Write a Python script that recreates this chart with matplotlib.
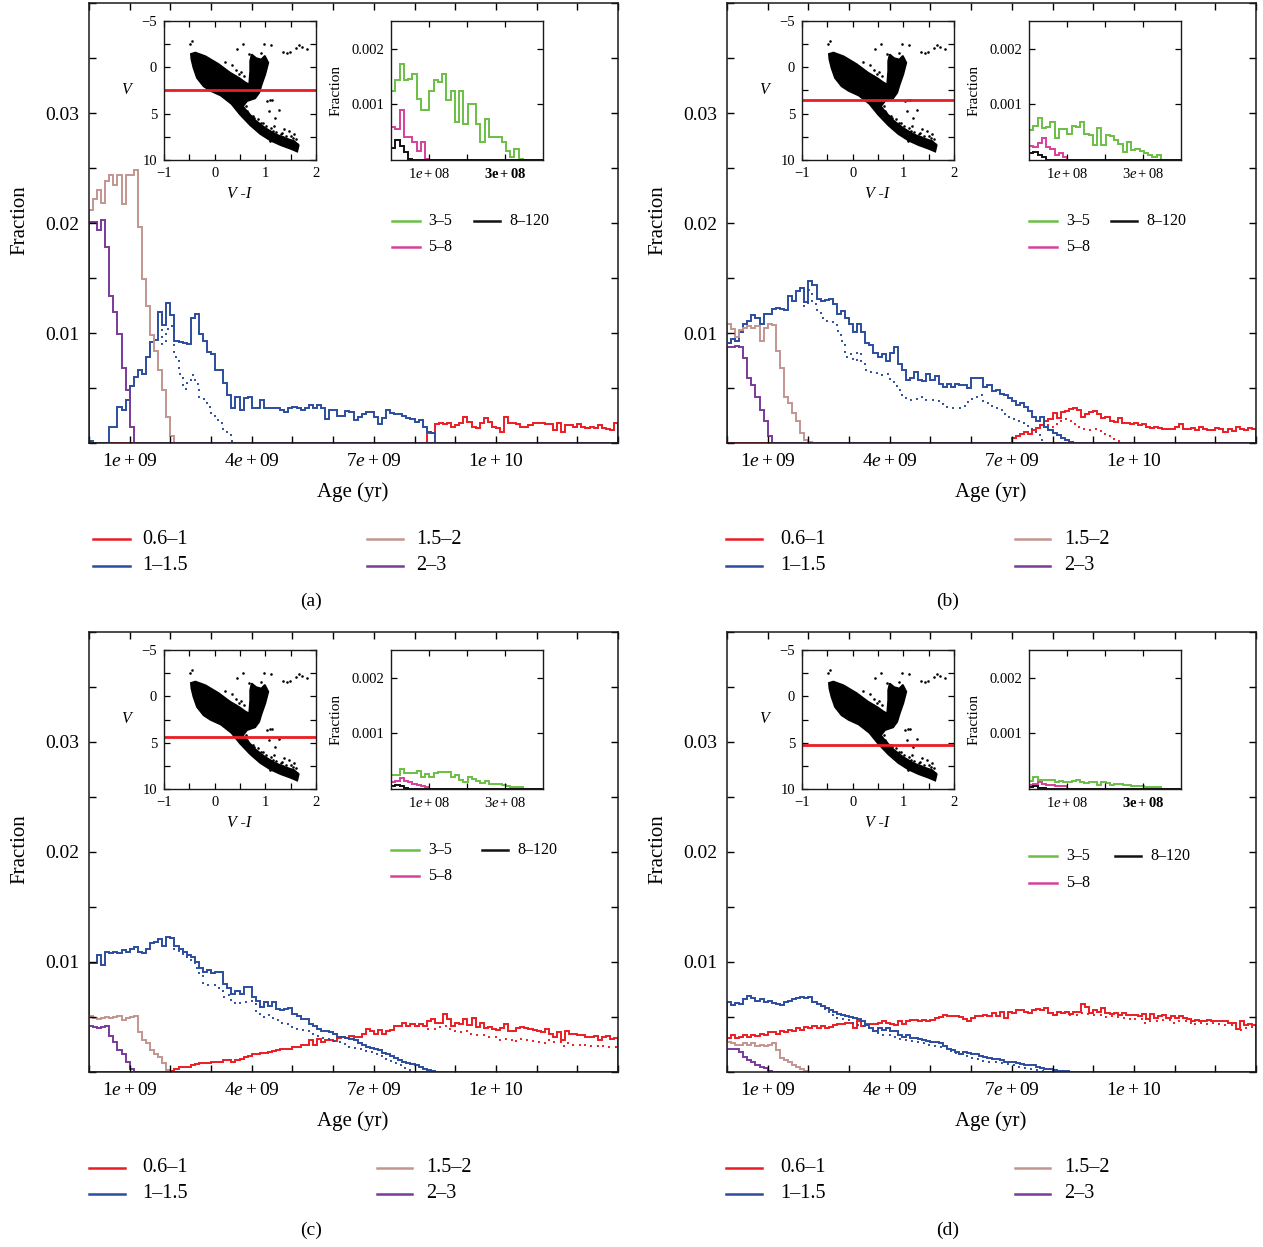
import numpy as np
import matplotlib
matplotlib.use('Agg')
import matplotlib.pyplot as plt
from matplotlib.lines import Line2D
from matplotlib.ticker import MultipleLocator, FixedLocator

plt.rcParams['font.family'] = ['Liberation Serif', 'DejaVu Serif']
plt.rcParams['mathtext.fontset'] = 'custom'
plt.rcParams['mathtext.rm'] = 'Liberation Serif'
plt.rcParams['mathtext.it'] = 'Liberation Serif:italic'
plt.rcParams['mathtext.bf'] = 'Liberation Serif:bold'

# ---------------- data (fractions in units of 1e-3) ----------------
AGE_BIN = 1e8          # 0.1 Gyr bins, main panels
N_AGE = 130
YOUNG_BIN = 1.12e7     # inset bins
N_YOUNG = 36

# panel (a)
A_PURPLE = [20.1, 20.1, 19.4, 20.3, 17.8, 13.4, 11.9, 9.9, 6.8, 4.8, 1.5]
A_ROSY = [21.2, 22.2, 23.0, 21.8, 23.8, 24.4, 23.5, 24.4, 21.7, 24.4, 24.4, 24.8,
          19.6, 14.9, 12.5, 9.8, 8.4, 6.6, 4.8, 2.4, 0.6]
A_BLUE = [0.2, 0, 0, 0, 0, 1.5, 1.5, 3.3, 3.0, 3.9, 5.2, 6.0, 6.6, 6.3, 7.8, 9.2, 9.4,
          11.9, 10.7, 12.7, 11.6, 9.3, 9.2, 9.1, 9.0, 11.4, 11.7, 9.9, 9.3, 8.3, 8.1,
          6.6, 6.6, 5.5, 4.4, 3.2, 4.2, 3.0, 4.1, 4.2, 3.2, 3.2, 3.9, 3.2,
          3.2, 3.2, 3.2, 3.0, 2.8, 3.2, 3.3, 3.2, 3.0, 3.2, 3.5, 3.2, 3.5, 3.2, 2.2,
          3.0, 3.0, 2.5, 2.5, 2.9, 2.8, 2.1, 2.4, 2.6, 2.8, 2.8, 2.4, 1.7, 2.3, 3.0,
          2.7, 2.6, 2.6, 2.5, 2.3, 2.2, 1.9, 2.1, 1.5, 1.0, 0.9]
A_BLUE_DOT_START = 18
A_BLUE_DOT = [9.0, 10.4, 10.6, 7.8, 6.3, 4.9, 5.7, 6.2, 5.4, 4.0, 4.0, 3.3, 2.7, 2.1,
              1.8, 1.2, 0.7, 0.2]
A_RED_START = 83
A_RED = [0.9, 0.9, 1.7, 1.8, 1.7, 1.8, 1.5, 1.6, 1.8, 2.4, 1.9, 1.5, 1.4, 1.8, 2.3,
         1.9, 1.5, 1.4, 1.0, 2.4, 1.8, 1.8, 1.7, 1.5, 1.5, 1.6, 1.8, 1.8, 1.8, 1.7,
         1.7, 1.2, 1.8, 1.0, 1.6, 1.6, 1.5, 1.7, 1.5, 1.4, 1.5, 1.4, 1.6, 1.4, 1.3,
         1.2, 1.8]
A_GREEN = [1.25, 1.43, 1.73, 1.43, 1.46, 1.55, 1.10, 0.90, 0.90, 1.25, 1.43, 1.40,
           1.55, 1.08, 1.25, 0.68, 1.25, 0.65, 1.01, 1.01, 0.64, 0.32, 0.74, 0.41,
           0.41, 0.41, 0.32, 0.17, 0.05, 0.20, 0.02]
A_MAGENTA = [0.59, 0.56, 0.90, 0.42, 0.42, 0.32, 0.17, 0.32, 0.02]
A_BLACK = [0.22, 0.36, 0.26, 0.14, 0.02]

# panel (b)
B_PURPLE = [8.7, 8.7, 8.8, 8.7, 7.7, 5.9, 5.3, 4.2, 3.0, 2.0, 0.6]
B_ROSY = [10.8, 10.4, 9.6, 10.3, 10.5, 10.6, 10.5, 10.6, 9.3, 10.5, 10.8, 10.7, 8.4,
          6.8, 4.2, 3.6, 2.7, 2.0, 0.9, 0.3, 0.1]
B_BLUE = [9.1, 9.5, 9.3, 10.1, 10.8, 11.1, 11.6, 11.4, 10.8, 11.7, 11.7, 12.2, 12.3,
          12.2, 12.1, 13.4, 12.9, 13.8, 14.1, 12.8, 14.7, 14.4, 13.1, 12.9, 13.0,
          13.1, 12.6, 11.7, 12.0, 11.4, 10.8, 10.1, 10.8, 10.1, 9.1, 8.9, 8.2, 7.8,
          8.1, 7.5, 8.2, 8.7, 7.2, 6.6, 5.7, 5.9, 6.5, 5.7, 5.6, 6.3, 5.7, 6.1, 5.4,
          5.1, 5.4, 5.1, 5.4, 5.3, 5.3, 5.0, 5.9, 5.9, 5.9, 5.1, 5.3, 4.7, 4.8, 4.5,
          4.4, 4.1, 3.8, 3.5, 3.6, 3.3, 2.9, 2.4, 2.0, 2.4, 1.5, 1.2, 0.9, 0.7, 0.5,
          0.3, 0.1]
B_BLUE_DOT_START = 19
B_BLUE_DOT = [12.5, 13.9, 12.6, 11.8, 11.4, 11.1, 11.0, 11.0, 10.2, 9.3, 7.8, 8.1,
              7.5, 8.3, 7.5, 6.6, 6.5, 6.4, 6.3, 6.2, 6.3, 5.7, 5.2, 4.8, 4.4, 4.1,
              3.9, 4.0, 4.1, 4.2, 3.9, 3.9, 3.8, 3.6, 3.4, 3.3, 3.2, 3.2, 3.2, 3.4,
              3.7, 4.0, 4.2, 4.4, 3.8, 3.6, 3.4, 3.2, 3.0, 2.6, 2.4, 2.2, 2.0, 1.8,
              1.6, 1.4, 1.2, 0.8, 0.3]
B_RED_START = 70
B_RED = [0.5, 0.6, 0.8, 1.0, 0.8, 1.2, 1.4, 1.6, 2.0, 2.2, 2.7, 2.3, 2.8, 2.9, 3.1,
         3.2, 3.0, 2.4, 2.6, 2.8, 2.9, 2.6, 2.3, 2.4, 2.0, 1.9, 2.3, 1.8, 1.8, 1.7,
         1.8, 1.6, 1.7, 1.5, 1.4, 1.5, 1.4, 1.3, 1.3, 1.3, 1.5, 1.7, 1.3, 1.3, 1.4,
         1.2, 1.5, 1.3, 1.2, 1.2, 1.4, 1.3, 1.0, 1.3, 1.1, 1.5, 1.3, 1.2, 1.4, 1.3]
B_RED_DOT_START = 78
B_RED_DOT = [1.6, 1.5, 1.5, 1.7, 2.0, 2.2, 2.0, 1.7, 1.5, 1.3, 1.2, 1.2, 1.3, 1.3,
             1.0, 0.8, 0.6, 0.4, 0.2]
B_GREEN = [0.54, 0.61, 0.75, 0.57, 0.60, 0.69, 0.39, 0.55, 0.55, 0.47, 0.61, 0.59,
           0.69, 0.47, 0.45, 0.27, 0.57, 0.27, 0.45, 0.43, 0.36, 0.29, 0.15, 0.33,
           0.18, 0.19, 0.17, 0.12, 0.09, 0.05, 0.09]
B_MAGENTA = [0.25, 0.24, 0.30, 0.39, 0.24, 0.20, 0.09, 0.13, 0.06]
B_BLACK = [0.12, 0.15, 0.09, 0.05]

# panel (c)
C_PURPLE = [4.2, 4.1, 4.0, 4.1, 4.2, 3.3, 2.7, 2.0, 1.6, 0.9, 0.3]
C_ROSY = [5.1, 4.9, 4.8, 4.9, 5.0, 4.9, 5.0, 5.1, 4.7, 4.9, 5.0, 5.1, 3.6, 2.9, 2.6,
          2.0, 1.6, 1.4, 0.8, 0.15]
C_BLUE = [9.9, 9.9, 10.6, 9.7, 10.9, 10.8, 10.9, 10.8, 11.1, 10.9, 11.2, 11.4, 10.9,
          10.8, 11.2, 11.7, 11.8, 12.1, 11.5, 12.3, 12.2, 11.5, 11.2, 10.9, 10.6,
          10.5, 10.0, 9.5, 9.1, 9.3, 9.0, 9.1, 9.1, 8.0, 7.6, 7.1, 7.4, 7.1, 7.7,
          7.7, 6.8, 6.5, 5.9, 6.4, 6.0, 6.4, 5.7, 5.6, 5.7, 5.8, 5.3, 5.1, 4.8, 4.8,
          4.4, 4.2, 3.9, 3.7, 3.7, 3.6, 3.5, 3.2, 3.2, 3.1, 3.0, 2.9, 2.6, 2.5, 2.3,
          2.2, 2.1, 2.0, 1.7, 1.6, 1.5, 1.3, 1.1, 0.9, 0.8, 0.7, 0.6, 0.5, 0.3, 0.2,
          0.1]
C_BLUE_DOT_START = 21
C_BLUE_DOT = [11.2, 10.8, 10.5, 10.2, 10.0, 9.5, 8.8, 8.0, 7.9, 7.9, 7.6, 7.4, 6.8,
              7.0, 6.5, 6.2, 6.4, 6.4, 6.5, 6.2, 5.3, 5.0, 5.1, 5.2, 4.9, 4.7, 4.5,
              4.4, 4.3, 4.1, 3.9, 3.8, 3.7, 3.6, 3.4, 3.3, 3.1, 3.0, 2.9, 2.8, 2.7,
              2.6, 2.5, 2.3, 2.2, 2.1, 2.0, 1.9, 1.8, 1.6, 1.5, 1.3, 1.2, 1.0, 0.8,
              0.6, 0.4, 0.2, 0.1]
C_RED_START = 20
C_RED = [0.1, 0.3, 0.5, 0.5, 0.5, 0.6, 0.7, 0.8, 0.8, 0.8,
         0.9, 0.9, 0.9, 1.1, 1.1, 0.9, 1.1, 1.2, 1.4, 1.5,
         1.6, 1.6, 1.7, 1.7, 1.8, 1.9, 2.0, 2.1, 2.1, 2.1,
         2.3, 2.3, 2.5, 2.5, 2.9, 2.5, 3.0, 2.7, 2.9, 2.9,
         2.8, 3.1, 3.2, 3.1, 3.3, 3.2, 3.2, 3.5, 3.9, 3.7,
         3.5, 3.8, 3.5, 3.7, 3.8, 4.2, 4.2, 4.5, 4.2, 4.4,
         4.2, 4.4, 4.2, 4.6, 4.8, 4.5, 4.5, 5.3, 4.8, 4.2,
         4.5, 4.4, 4.8, 4.3, 4.9, 4.1, 4.5, 4.0, 4.1, 3.9,
         3.8, 4.0, 4.4, 3.7, 3.7, 4.0, 4.1, 4.0, 3.9, 3.8,
         3.7, 3.6, 3.9, 3.5, 3.2, 3.6, 2.9, 3.7, 3.5, 3.5,
         3.4, 3.4, 3.2, 3.2, 3.3, 2.9, 3.2, 3.3, 3.0, 3.1]
C_RED_DOT_START = 83
C_RED_DOT = [3.9, 3.9, 4.1, 4.1, 4.2, 3.9, 3.7, 3.6, 3.6, 3.7, 3.5, 3.5, 3.4, 3.4,
             3.3, 3.2, 3.2, 2.9, 2.9, 3.0, 2.9, 2.7, 2.8, 3.0, 2.9, 2.9, 2.7, 2.7,
             2.6, 2.6, 2.9, 2.7, 2.7, 2.4, 2.6, 2.6, 2.5, 2.5, 2.4, 2.5, 2.4, 2.4,
             2.3, 2.4, 2.3, 2.3, 2.3]
C_GREEN = [0.25, 0.25, 0.36, 0.29, 0.29, 0.29, 0.33, 0.21, 0.27, 0.21, 0.29, 0.30,
           0.31, 0.31, 0.21, 0.25, 0.17, 0.13, 0.21, 0.18, 0.15, 0.11, 0.15, 0.09,
           0.09, 0.09, 0.07, 0.06, 0.03, 0.03, 0.03]
C_MAGENTA = [0.12, 0.15, 0.19, 0.15, 0.12, 0.09, 0.07, 0.05, 0.03]
C_BLACK = [0.06, 0.07, 0.05, 0.01]

# panel (d)
D_PURPLE = [2.1, 2.05, 2.1, 1.8, 1.4, 1.1, 0.9, 0.6, 0.5, 0.4, 0.1]
D_ROSY = [2.7, 2.6, 2.5, 2.5, 2.6, 2.5, 2.6, 2.4, 2.5, 2.4, 2.5, 2.6, 2.0, 1.3, 1.1,
          0.9, 0.6, 0.5, 0.3, 0.1]
D_BLUE = [6.4, 6.1, 6.3, 6.2, 6.6, 6.9, 6.7, 6.5, 6.6, 6.4, 6.5, 6.3, 6.2, 6.1, 6.4,
          6.5, 6.6, 6.7, 6.8, 6.7, 6.8, 6.4, 6.2, 6.0, 5.8, 5.6, 5.5, 5.3, 5.2, 5.1,
          5.0, 4.9, 4.8, 4.6, 4.3, 4.0, 3.7, 4.0, 3.8, 4.0, 3.7, 3.7, 3.4, 3.2, 3.4,
          3.1, 3.1, 3.0, 2.9, 2.8, 2.7, 2.7, 2.6, 2.4, 2.1, 2.0, 1.8, 1.6, 1.8, 1.7,
          1.6, 1.6, 1.5, 1.4, 1.3, 1.2, 1.2, 1.1, 0.9, 0.9, 0.9, 0.8, 0.7, 0.6, 0.6,
          0.6, 0.5, 0.4, 0.3, 0.25, 0.2, 0.1, 0.05, 0.05]
D_BLUE_DOT_START = 21
D_BLUE_DOT = [6.3, 6.0, 5.8, 5.6, 5.3, 5.1, 4.9, 4.8, 4.7, 4.5, 4.4, 4.3, 4.2, 4.0,
              3.8, 3.6, 3.5, 3.4, 3.4, 3.3, 3.2, 3.0, 2.9, 2.8, 2.8, 2.7, 2.6, 2.6,
              2.5, 2.4, 2.4, 2.3, 2.2, 2.0, 1.9, 1.7, 1.6, 1.5, 1.3, 1.3, 1.2, 1.0,
              1.0, 0.9, 0.9, 0.9, 0.8, 0.7, 0.6, 0.6, 0.5, 0.4, 0.4, 0.3, 0.3, 0.2,
              0.1]
D_RED = [3.1, 3.4, 3.1, 3.2, 3.35, 3.2, 3.4, 3.3, 3.5, 3.35,
         3.6, 3.65, 3.5, 3.7, 3.6, 3.8, 3.7, 4.0, 3.8, 4.1,
         4.0, 4.2, 4.0, 4.2, 4.0, 4.1, 4.3, 4.4, 4.4, 4.5,
         4.5, 4.0, 4.6, 4.2, 4.35, 4.4, 4.35, 4.5, 4.65, 4.5,
         4.4, 4.3, 4.6, 4.4, 4.65, 4.75, 4.75, 4.6, 4.75, 4.65,
         4.75, 4.9, 5.0, 5.15, 5.05, 5.1, 5.1, 5.0, 4.85, 4.65,
         4.9, 5.1, 5.1, 5.2, 5.1, 5.4, 5.1, 5.5, 4.9, 5.5,
         5.4, 5.6, 5.6, 5.5, 5.4, 5.6, 5.7, 5.6, 5.8, 5.4,
         5.2, 5.5, 5.4, 5.5, 5.3, 5.5, 5.5, 6.15, 5.9, 5.4,
         5.6, 5.5, 5.85, 5.4, 5.3, 5.4, 5.2, 5.4, 5.2, 5.2,
         5.15, 5.1, 5.3, 4.85, 5.3, 4.95, 5.1, 5.15, 4.9, 5.1,
         4.95, 5.1, 4.9, 4.85, 4.65, 4.75, 4.65, 4.65, 4.75, 4.65,
         4.65, 4.6, 4.65, 4.45, 4.5, 3.9, 4.6, 4.3, 4.35, 4.3]
D_RED_DOT_START = 84
D_RED_DOT = [5.2, 5.2, 5.2, 5.4, 5.3, 5.2, 5.2, 5.2, 5.0, 5.0, 5.1, 5.0, 5.0, 4.9,
             4.9, 4.75, 4.8, 4.85, 4.45, 4.5, 4.65, 4.6, 4.6, 4.75, 4.7, 4.5, 4.6,
             4.65, 4.6, 4.5, 4.3, 4.4, 4.45, 4.35, 4.4, 4.45, 4.4, 4.3, 4.3, 4.3,
             4.1, 3.8, 3.8, 4.0, 4.1, 4.0]
D_GREEN = [0.15, 0.21, 0.17, 0.17, 0.17, 0.17, 0.13, 0.15, 0.12, 0.13, 0.15, 0.17,
           0.12, 0.11, 0.13, 0.13, 0.07, 0.12, 0.11, 0.07, 0.09, 0.09, 0.07, 0.07,
           0.06, 0.05, 0.05, 0.03, 0.03, 0.03, 0.03]
D_MAGENTA = [0.07, 0.09, 0.12, 0.09, 0.07, 0.07, 0.06, 0.05, 0.05]
D_BLACK = [0.04, 0.05, 0.02, 0.01]

# colour-magnitude diagram (V-I, V): dense body outline and isolated stars
CMD_BODY_VI = [-0.47, -0.38, -0.18, 0.08, 0.30, 0.50, 0.60, 0.68, 0.70,
               0.70, 0.73, 0.82, 0.92, 0.99, 1.06, 1.00, 0.93, 0.88, 0.80, 0.64,
               0.56, 0.63, 0.80, 1.00, 1.20, 1.40, 1.57, 1.66, 1.63, 1.50, 1.30, 1.10,
               0.90, 0.70, 0.50, 0.33, 0.12, -0.08, -0.22, -0.35, -0.42, -0.46]
CMD_BODY_V = [-1.45, -1.60, -1.20, -0.35, 0.55, 1.20, 1.60, 1.85, 0.40,
              -0.68, -1.40, -1.00, -0.85, -1.25, -0.50, 0.76, 1.85, 2.75, 3.35, 3.65,
              4.20, 4.70, 5.70, 6.55, 7.20, 7.65, 7.95, 8.40, 9.10, 8.80, 8.40, 7.90,
              7.20, 6.25, 5.10, 3.95, 3.05, 2.55, 2.05, 1.15, 0.05, -0.85]
CMD_STARS_VI = [-0.49, -0.44, 0.45, 0.55, 0.97, 1.11, 1.34, 1.43, 1.49, 1.60, 1.66,
                1.73, 1.83, 0.68, 0.74, 0.91, 0.97, 0.20, 0.35, 0.42, 0.48, 0.40,
                1.04, 1.14, 1.09, 0.61, 0.64, 0.58, 0.78, 1.07, 1.27, 1.20, 1.17, 1.37,
                1.47, 1.57, 1.30, 0.71, 0.91, 0.97, 1.04, 1.50, 1.60, 1.63, 0.84, 0.91,
                0.81, 0.88, 0.58, 0.52, 0.45, 1.44, 1.52, 1.10, 1.25, 0.75, 0.86, 0.95,
                1.02, 1.12, 1.22, 1.32, 1.40, 1.54, 0.66, 0.72, 0.88, 1.15, 1.35, 1.45]
CMD_STARS_V = [-2.48, -2.84, -1.94, -2.55, -2.55, -2.41, -1.69, -1.58, -1.69, -2.12,
               -2.41, -2.19, -1.94, -1.40, -1.20, -1.58, -1.04, -0.60, -0.20, 0.30,
               0.70, 0.95, 3.63, 3.56, 3.56, 4.17, 4.71, 5.07, 5.43, 4.71, 4.64, 5.43,
               6.33, 6.69, 6.87, 7.23, 7.23, 5.79, 5.97, 6.51, 6.87, 7.41, 7.77, 8.31,
               2.19, 1.47, 0.40, 0.76, 0.90, 0.45, 1.10, 8.0, 8.5, 7.9, 7.8, 5.2, 5.6,
               6.0, 6.3, 6.6, 7.0, 7.1, 7.4, 7.6, 4.9, 5.3, 6.4, 6.9, 7.5, 8.2]
CMD_CUT = [2.45, 3.5, 4.35, 5.3]

MAIN_XTICKS = [1e9, 4e9, 7e9, 1e10]
MAIN_XLABELS = [r'$1e+09$', r'$4e+09$', r'$7e+09$', r'$1e+10$']
MAIN_YTICKS = [0.01, 0.02, 0.03]
MAIN_YLABELS = ['0.01', '0.02', '0.03']
MAIN_LEGEND = ['0.6–1', '1–1.5', '1.5–2', '2–3']
INSET_LEGEND = ['3–5', '5–8', '8–120']

# ---------------- style ----------------
RED = '#ec1c24'
BLUE = '#2b4c9e'
ROSY = '#c4958f'
PURPLE = '#7a3a9a'
GREEN = '#6bbf45'
MAGENTA = '#d6409b'
BLACK = '#111111'

W, H = 1263, 1247
fig = plt.figure(figsize=(W / 100, H / 100), dpi=100)


def fx(x):
    return x / W


def fy(y):
    return 1 - y / H


def full(vals, start, n):
    arr = np.zeros(n)
    v = np.asarray(vals, dtype=float)[:n - start]
    arr[start:start + len(v)] = v
    return arr * 1e-3


main_edges = np.arange(N_AGE + 1) * AGE_BIN
young_edges = np.arange(N_YOUNG + 1) * YOUNG_BIN

panels = [
    dict(dx=0, dy=0, red=(A_RED_START, A_RED), red_dot=None,
         blue=A_BLUE, blue_dot=(A_BLUE_DOT_START, A_BLUE_DOT), rosy=A_ROSY,
         purple=A_PURPLE, green=A_GREEN, magenta=A_MAGENTA, black=A_BLACK,
         cut=CMD_CUT[0], bold3=True, cap='(a)',
         inleg=(221, 247, 392, 420, 428, 474, 500, 509),
         botleg=(539, 566, 93, 130, 142, 367, 403, 416)),
    dict(dx=638, dy=0, red=(B_RED_START, B_RED), red_dot=(B_RED_DOT_START, B_RED_DOT),
         blue=B_BLUE, blue_dot=(B_BLUE_DOT_START, B_BLUE_DOT), rosy=B_ROSY,
         purple=B_PURPLE, green=B_GREEN, magenta=B_MAGENTA, black=B_BLACK,
         cut=CMD_CUT[1], bold3=False, cap='(b)',
         inleg=(221, 247, 1029, 1057, 1066, 1111, 1137, 1146),
         botleg=(539, 566, 726, 762, 780, 1015, 1050, 1064)),
    dict(dx=0, dy=629, red=(C_RED_START, C_RED), red_dot=(C_RED_DOT_START, C_RED_DOT),
         blue=C_BLUE, blue_dot=(C_BLUE_DOT_START, C_BLUE_DOT), rosy=C_ROSY,
         purple=C_PURPLE, green=C_GREEN, magenta=C_MAGENTA, black=C_BLACK,
         cut=CMD_CUT[2], bold3=False, cap='(c)',
         inleg=(850, 876, 391, 419, 428, 482, 508, 517),
         botleg=(1168, 1194, 89, 125, 142, 377, 412, 426)),
    dict(dx=638, dy=629, red=(0, D_RED), red_dot=(D_RED_DOT_START, D_RED_DOT),
         blue=D_BLUE, blue_dot=(D_BLUE_DOT_START, D_BLUE_DOT), rosy=D_ROSY,
         purple=D_PURPLE, green=D_GREEN, magenta=D_MAGENTA, black=D_BLACK,
         cut=CMD_CUT[3], bold3=True, cap='(d)',
         inleg=(856, 883, 1029, 1057, 1066, 1115, 1141, 1150),
         botleg=(1168, 1194, 726, 762, 780, 1015, 1050, 1064)),
]

LW = 1.4
TICK_FS = 14
LAB_FS = 15
IN_FS = 10.5


def dotted(ax, solid, dot, color):
    start, vals = dot
    arr = solid.copy()
    arr[start:] = 0
    v = np.asarray(vals) * 1e-3
    arr[start:start + len(v)] = v[:N_AGE - start]
    end = min(N_AGE, start + len(v) + 1)
    s0 = max(start - 1, 0)
    ax.stairs(arr[s0:end], main_edges[s0:end + 1], baseline=None, color=color,
              lw=LW, linestyle=(0, (1, 2.6)))


def style_spines(ax, lw):
    for s in ax.spines.values():
        s.set_linewidth(lw)
        s.set_color('#1a1a1a')


for p in panels:
    dx, dy = p['dx'], p['dy']
    ax = fig.add_axes([fx(89 + dx), fy(443 + dy), 529 / W, 440 / H])
    red = full(p['red'][1], p['red'][0], N_AGE)
    blue = full(p['blue'], 0, N_AGE)
    rosy = full(p['rosy'], 0, N_AGE)
    purple = full(p['purple'], 0, N_AGE)
    ax.stairs(red, main_edges, color=RED, lw=LW)
    ax.stairs(blue, main_edges, color=BLUE, lw=LW)
    if p['red_dot'] is not None:
        dotted(ax, red, p['red_dot'], RED)
    dotted(ax, blue, p['blue_dot'], BLUE)
    ax.stairs(rosy, main_edges, color=ROSY, lw=LW)
    ax.stairs(purple, main_edges, color=PURPLE, lw=LW)
    ax.set_xlim(0, N_AGE * AGE_BIN)
    ax.set_ylim(0, 0.04)
    ax.xaxis.set_major_locator(FixedLocator(MAIN_XTICKS))
    ax.set_xticklabels(MAIN_XLABELS)
    ax.xaxis.set_minor_locator(MultipleLocator(1e9))
    ax.yaxis.set_major_locator(FixedLocator(MAIN_YTICKS))
    ax.set_yticklabels(MAIN_YLABELS)
    ax.yaxis.set_minor_locator(MultipleLocator(0.005))
    ax.tick_params(which='both', direction='in', top=True, right=True,
                   length=5, width=1.0, labelsize=TICK_FS, pad=7)
    style_spines(ax, 1.1)
    fig.text(fx(20 + dx), fy(220 + dy), 'Fraction', rotation=90, ha='center',
             va='center', fontsize=LAB_FS)
    fig.text(fx(353 + dx), fy(492 + dy), 'Age (yr)', ha='center', va='center',
             fontsize=LAB_FS)

    # CMD inset
    cax = fig.add_axes([fx(164 + dx), fy(160 + dy), 152 / W, 139 / H])
    cax.fill(CMD_BODY_VI, CMD_BODY_V, color='black', lw=1.2, ec='black')
    cax.scatter(CMD_STARS_VI, CMD_STARS_V, s=3.5, color='black', lw=0)
    cax.axhline(p['cut'], color=RED, lw=2.0)
    cax.set_xlim(-1, 2)
    cax.set_ylim(10, -5)
    cax.set_xticks([-1, 0, 1, 2])
    cax.set_yticks([-5, 0, 5, 10])
    cax.xaxis.set_minor_locator(MultipleLocator(0.5))
    cax.yaxis.set_minor_locator(MultipleLocator(2.5))
    cax.tick_params(which='both', direction='in', top=True, right=True,
                    length=4, width=0.9, labelsize=IN_FS, pad=5)
    style_spines(cax, 1.0)
    fig.text(fx(126 + dx), fy(90 + dy), 'V', style='italic', ha='center',
             va='center', fontsize=11.5)
    fig.text(fx(239 + dx), fy(194 + dy), 'V -I', style='italic', ha='center',
             va='center', fontsize=11.5)

    # young-age inset
    hax = fig.add_axes([fx(391 + dx), fy(160 + dy), 152 / W, 139 / H])
    hax.stairs(full(p['green'], 0, N_YOUNG), young_edges, color=GREEN, lw=LW)
    hax.stairs(full(p['magenta'], 0, N_YOUNG), young_edges, color=MAGENTA, lw=LW)
    hax.stairs(full(p['black'], 0, N_YOUNG), young_edges, color=BLACK, lw=LW)
    hax.set_xlim(0, 4e8)
    hax.set_ylim(0, 0.0025)
    hax.set_xticks([1e8, 2e8, 3e8])
    lab3 = r'$\mathbf{3e+08}$' if p['bold3'] else r'$3e+08$'
    hax.set_xticklabels([r'$1e+08$', '', lab3])
    hax.set_yticks([0.001, 0.002])
    hax.set_yticklabels(['0.001', '0.002'])
    hax.tick_params(which='both', direction='in', top=True, right=True,
                    length=4, width=0.9, labelsize=IN_FS, pad=5)
    style_spines(hax, 1.0)
    fig.text(fx(336 + dx), fy(90 + dy), 'Fraction', rotation=90, ha='center',
             va='center', fontsize=11)

    # inset legend
    y1, y2, l0, l1, t1, m0, m1, t2 = p['inleg']
    for (xa, xb, xt, yy, col, lab) in [(l0, l1, t1, y1, GREEN, INSET_LEGEND[0]),
                                       (l0, l1, t1, y2, MAGENTA, INSET_LEGEND[1]),
                                       (m0, m1, t2, y1, BLACK, INSET_LEGEND[2])]:
        fig.add_artist(Line2D([fx(xa), fx(xb)], [fy(yy), fy(yy)], color=col,
                              lw=1.8, transform=fig.transFigure))
        fig.text(fx(xt), fy(yy), lab, ha='left', va='center', fontsize=11.5)

    # bottom legend
    y1, y2, l0, l1, t1, m0, m1, t2 = p['botleg']
    for (xa, xb, xt, yy, col, lab) in [(l0, l1, t1, y1, RED, MAIN_LEGEND[0]),
                                       (l0, l1, t1, y2, BLUE, MAIN_LEGEND[1]),
                                       (m0, m1, t2, y1, ROSY, MAIN_LEGEND[2]),
                                       (m0, m1, t2, y2, PURPLE, MAIN_LEGEND[3])]:
        fig.add_artist(Line2D([fx(xa), fx(xb)], [fy(yy), fy(yy)], color=col,
                              lw=1.8, transform=fig.transFigure))
        fig.text(fx(xt), fy(yy), lab, ha='left', va='center', fontsize=14.5)

    cx = 311 if dx == 0 else 948
    cy = 601 if dy == 0 else 1230
    fig.text(fx(cx), fy(cy), p['cap'], ha='center', va='center', fontsize=14)

fig.savefig('out.png', dpi=100, facecolor='white')
